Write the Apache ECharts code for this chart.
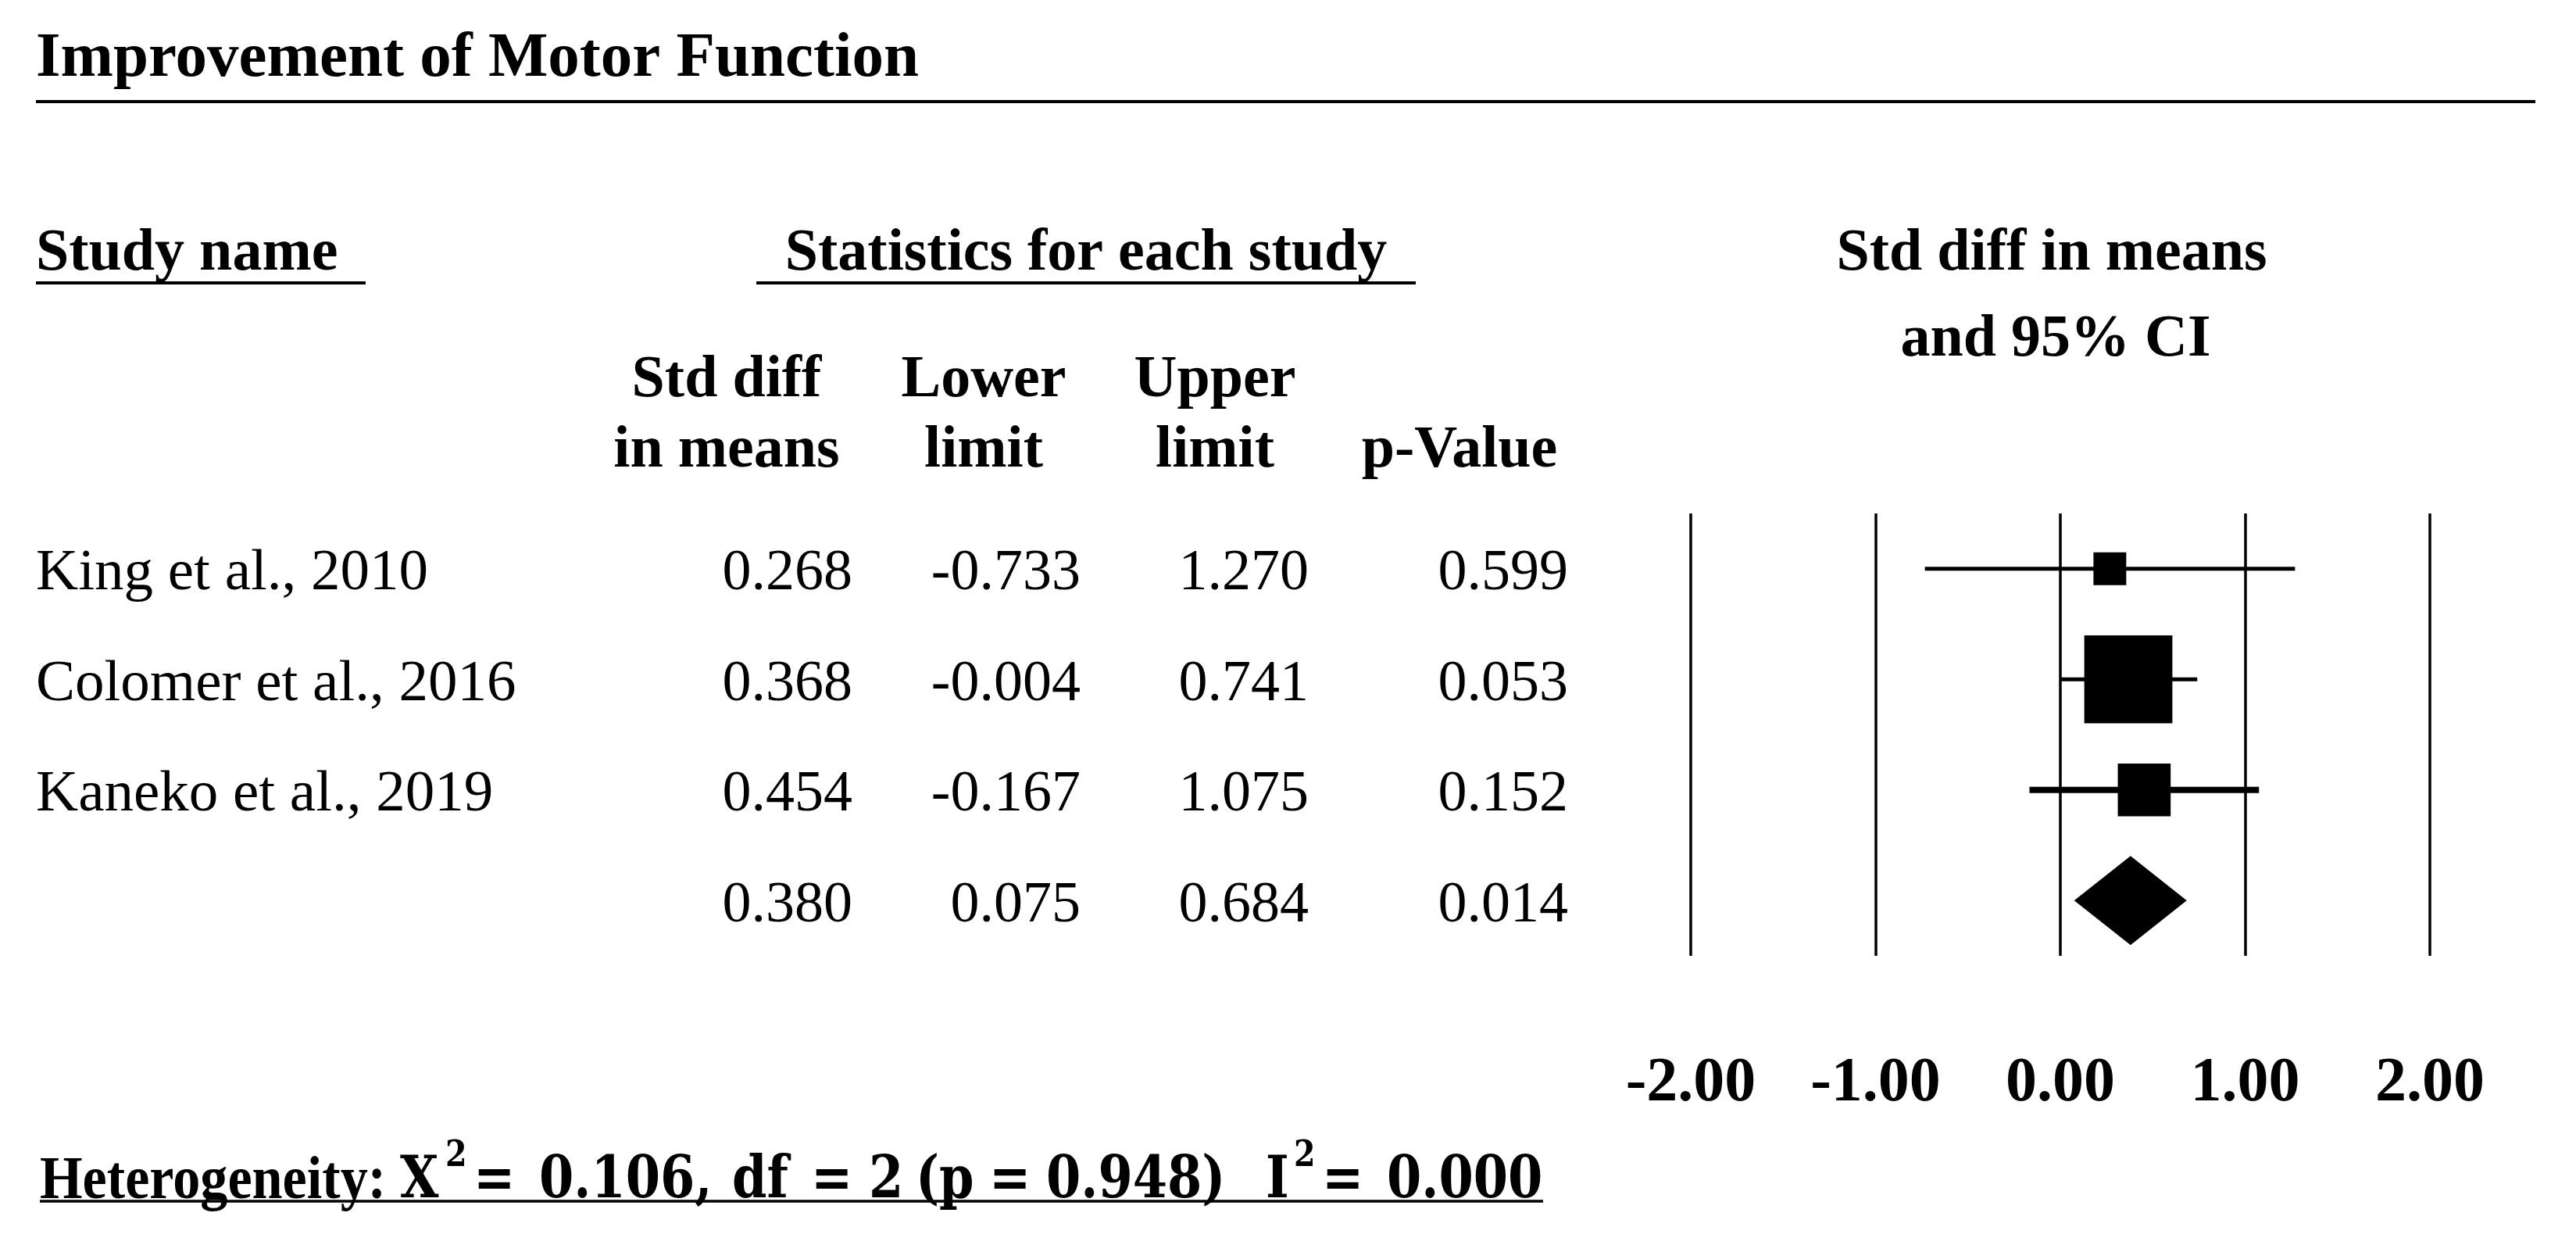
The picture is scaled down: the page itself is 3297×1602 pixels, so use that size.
<!DOCTYPE html>
<html><head><meta charset="utf-8">
<script src="https://cdn.jsdelivr.net/npm/echarts@6/dist/echarts.min.js"></script>
<style>html,body{margin:0;padding:0;background:#fff}#c{width:3297px;height:1602px}</style>
</head><body><div id="c"></div>
<script>
// ---------------- DATA ----------------
const chartTitle = 'Improvement of Motor Function';
const studies = ['King et al., 2010', 'Colomer et al., 2016', 'Kaneko et al., 2019'];
const stdDiff = [0.268, 0.368, 0.454];
const lowerLimit = [-0.733, -0.004, -0.167];
const upperLimit = [1.270, 0.741, 1.075];
const pValue = [0.599, 0.053, 0.152];
const pooled = [0.380, 0.075, 0.684, 0.014]; // std diff, lower, upper, p
const xTicks = [-2, -1, 0, 1, 2];
const colHeads = [['Std diff', 'in means'], ['Lower', 'limit'], ['Upper', 'limit'], ['', 'p-Value']];
const hetParts = ['Heterogeneity:', 'X', '2', '=', '0.106,', 'df', '=', '2', '(p', '=', '0.948)', 'I', '2', '=', '0.000'];

// ---------------- LAYOUT / STYLE ----------------
const SERIF = '"Liberation Serif", "Times New Roman", serif';
const MATH = '"DejaVu Serif", serif';
const DY = 7; // text vertical nudge
const colRight = [1091, 1383, 1675, 2007];
const colCenter = [930, 1259, 1555, 1868];
const ciWidths = [5, 5, 8];
const hetX = [51, 512, 570, 606, 690, 937, 1038, 1112, 1172, 1266, 1339, 1620, 1656, 1692, 1775];
const hetSup = [false, false, true, false, false, false, false, false, false, false, false, false, true, false, false];
const hetY = 1506;

// weights (inverse variance) -> box side
const se = studies.map((s, i) => (upperLimit[i] - lowerLimit[i]) / (2 * 1.96));
const w = se.map(s => 1 / (s * s));
const wSum = w.reduce((a, b) => a + b, 0);
const boxSide = w.map(v => 13.8 * Math.sqrt(v / wSum * 100));

const nRows = studies.length + 1;
const chart = echarts.init(document.getElementById('c'), null, {renderer: 'canvas', width: 3297, height: 1602});

const option = {
  backgroundColor: '#fff',
  animation: false,
  grid: {left: 2164, right: 187, top: 657, bottom: 379, containLabel: false},
  xAxis: {
    type: 'value', min: xTicks[0], max: xTicks[xTicks.length - 1], interval: 1,
    axisLine: {show: false}, axisTick: {show: false},
    splitLine: {show: true, lineStyle: {color: '#000', width: 3.5}},
    axisLabel: {margin: 124, formatter: v => v.toFixed(2), fontFamily: SERIF, fontWeight: 'bold',
      fontSize: 80, lineHeight: 80, color: '#000', showMinLabel: true, showMaxLabel: true}
  },
  yAxis: {type: 'value', min: 0, max: nRows, inverse: true, show: false},
  series: [
    {
      type: 'custom', name: 'ci', encode: {x: [1, 2], y: 0},
      data: studies.map((s, i) => [i + 0.5, lowerLimit[i], upperLimit[i]]),
      renderItem: (params, api) => {
        const y = api.value(0);
        const a = api.coord([api.value(1), y]);
        const b = api.coord([api.value(2), y]);
        return {type: 'line', shape: {x1: a[0], y1: a[1], x2: b[0], y2: b[1]},
          style: {stroke: '#000', lineWidth: ciWidths[params.dataIndex]}};
      },
      z: 2
    },
    {
      type: 'custom', name: 'box', encode: {x: 1, y: 0},
      data: studies.map((s, i) => [i + 0.5, stdDiff[i]]),
      renderItem: (params, api) => {
        const c = api.coord([api.value(1), api.value(0)]);
        const s = boxSide[params.dataIndex];
        return {type: 'rect', shape: {x: c[0] - s / 2, y: c[1] - s / 2, width: s, height: s},
          style: {fill: '#000'}};
      },
      z: 3
    },
    {
      type: 'custom', name: 'pooled', encode: {x: [1, 2, 3], y: 0},
      data: [[nRows - 0.5, pooled[1], pooled[0], pooled[2]]],
      renderItem: (params, api) => {
        const y = api.value(0);
        const l = api.coord([api.value(1), y]);
        const m = api.coord([api.value(2), y]);
        const r = api.coord([api.value(3), y]);
        const h = 57;
        return {type: 'polygon', shape: {points: [[l[0], l[1]], [m[0], m[1] - h], [r[0], r[1]], [m[0], m[1] + h]]},
          style: {fill: '#000'}};
      },
      z: 3
    }
  ]
};
chart.setOption(option);

// ---------------- TEXT / TABLE ----------------
function txt(text, x, y, size, opts) {
  opts = opts || {};
  return {type: 'text', silent: true, z: 10, x: x, y: y + DY, scaleX: opts.sx || 1, scaleY: 1,
    style: {text: text, x: 0, y: 0, fill: '#000',
      font: (opts.bold ? 'bold ' : '') + size + 'px ' + (opts.family || SERIF),
      textAlign: opts.align || 'left', textVerticalAlign: 'middle', align: opts.align || 'left', verticalAlign: 'middle'}};
}
function hline(x1, x2, y, wdt) {
  return {type: 'line', silent: true, z: 10, shape: {x1: x1, y1: y, x2: x2, y2: y}, style: {stroke: '#000', lineWidth: wdt}};
}
const g = [];
g.push(txt(chartTitle, 46, 69, 81, {bold: true}));
g.push(hline(46, 3245, 130, 4));
g.push(txt('Study name', 46, 318, 76, {bold: true}));
g.push(hline(46, 468, 362, 4));
g.push(txt('Statistics for each study', 1390, 318, 76, {bold: true, align: 'center'}));
g.push(hline(968, 1812, 362, 4));
g.push(txt('Std diff in means', 2626, 318, 76, {bold: true, align: 'center'}));
g.push(txt('and 95% CI', 2631, 428, 76, {bold: true, align: 'center'}));
colHeads.forEach((h, k) => {
  if (h[0]) g.push(txt(h[0], colCenter[k], 480, 76, {bold: true, align: 'center'}));
  g.push(txt(h[1], colCenter[k], 570, 76, {bold: true, align: 'center'}));
});
const rowY = i => chart.convertToPixel({gridIndex: 0}, [0, i + 0.5])[1];
studies.forEach((s, i) => {
  const y = rowY(i);
  g.push(txt(s, 46, y, 75));
  [stdDiff[i], lowerLimit[i], upperLimit[i], pValue[i]].forEach((v, k) => {
    g.push(txt(v.toFixed(3), colRight[k], y, 74, {align: 'right'}));
  });
});
const yp = rowY(studies.length);
pooled.forEach((v, k) => g.push(txt(v.toFixed(3), colRight[k], yp, 74, {align: 'right'})));
hetParts.forEach((t, k) => {
  if (k === 0) g.push(txt(t, hetX[k], hetY, 78, {bold: true, sx: 0.9}));
  else if (hetSup[k]) g.push(txt(t, hetX[k], hetY - 33, 46, {bold: true, family: MATH, sx: 0.86}));
  else g.push(txt(t, hetX[k], hetY, 74, {bold: true, family: MATH, sx: 0.86}));
});
g.push(hline(51, 1975, 1537, 3.5));
chart.setOption({graphic: {elements: g}});
</script></body></html>
